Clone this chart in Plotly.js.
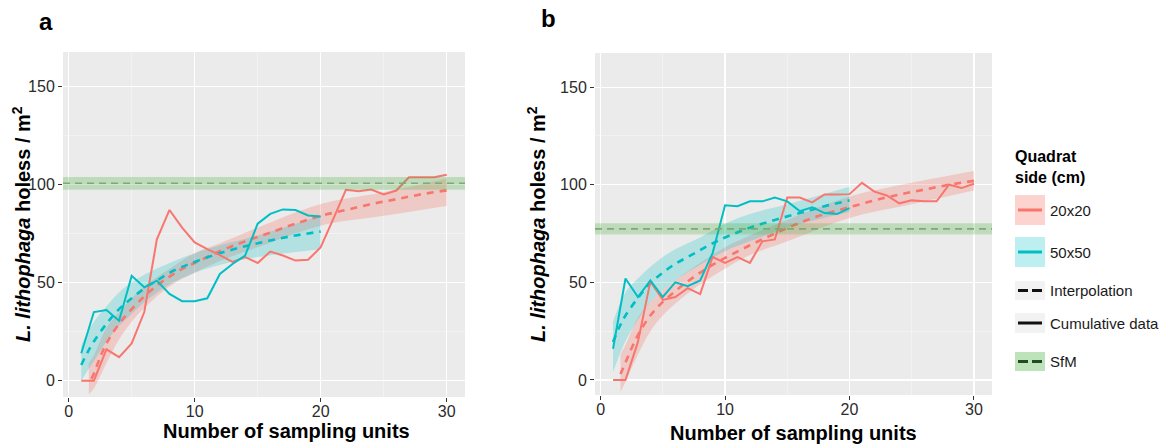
<!DOCTYPE html>
<html>
<head>
<meta charset="utf-8">
<script src="https://cdn.plot.ly/plotly-3.0.1.min.js"></script>
<style>
  html, body { margin: 0; padding: 0; background: #ffffff; }
  #chart { width: 1168px; height: 445px; }
</style>
</head>
<body>
<div id="chart"></div>
<script>
// ---- Sampling units ----
const units20 = [1,2,3,4,5,6,7,8,9,10,11,12,13,14,15,16,17,18,19,20,21,22,23,24,25,26,27,28,29,30];
const units50 = [1,2,3,4,5,6,7,8,9,10,11,12,13,14,15,16,17,18,19,20];

// ---- Panel a: cumulative density (holes / m2) ----
const a20Cum = [0,0,16,12,19,35,72,87,78,70.5,67,64,60.5,63,60,65.8,63.8,61.2,61.6,68,82.5,97.3,96.6,97.4,94.9,96.9,103.7,103.7,103.7,105];
const a50Cum = [14,35,36,30.6,53.5,47.6,51,44.2,40.5,40.5,42,54.4,59.5,63.8,80,85,87.3,87,84.2,83.7];

// ---- Panel a: interpolation curves and confidence ribbons ----
const a20FitX = [1.8,2,2.5,3,4,5,6,7,8,9,10,12,14,16,18,20,22,24,26,28,30];
const a20Fit  = [1,3.5,12,19,29,36.5,43,48.5,53,57,60,66,71,75.5,80,84,87,90,92.5,95,97];
const a50FitX = [1,1.5,2,3,4,5,6,7,8,9,10,12,14,16,18,20];
const a50Fit  = [8,14.5,20,29,36.5,42,47,51,55,58,60.5,65,68.5,71.5,74,76];
const a20BandX  = [1.6,2,3,4,5,6,8,10,12,15,20,25,30];
const a20BandHi = [9,13,27,35,42,48,57,65,70,78,90,96,103];
const a20BandLo = [-7,-4,9,21,30,37,48,55,61,68,79,84,89];
const a50BandX  = [1,2,3,4,5,6,8,10,12,15,20];
const a50BandHi = [18,30,38,45,50,54,60,65,69,74,84];
const a50BandLo = [0,10,20,28,34,40,49,55,59,63,67];

// ---- Panel b: cumulative density (holes / m2) ----
const b20Cum = [0,0,19.5,50.5,41,42.5,47,44,63,60,63,60,71,72,93.5,93.5,91,95,95,95.2,101,96.5,94.5,90.5,92,91.5,91.5,100,98.3,100.5];
const b50Cum = [16,52,42.5,51,42.5,50,48,51,65,89.5,89,91.5,91.5,93.5,91.5,86.5,88.5,85.5,85,88];

// ---- Panel b: interpolation curves and confidence ribbons ----
const b20FitX = [1.6,2,3,4,5,6,7,8,9,10,12,14,16,18,20,22,24,26,28,30];
const b20Fit  = [3,9,23,33,40,45.5,50.5,55,59,62.5,69,75,80.5,85,88.5,92,95,97.5,100,102];
const b50FitX = [1,1.5,2,3,4,5,6,7,8,9,10,12,14,16,18,20];
const b50Fit  = [19.5,27,33,42,49.5,55,59.5,63,66.5,70,73,78,82,85.5,89,92];
const b20BandX  = [1.6,2,3,4,5,6,8,10,12,15,20,25,30];
const b20BandHi = [13,18,32,40,46,51,60,68,74,82,94,101,107];
const b20BandLo = [-6,-1,13,25,33,39,49,57,64,71,83,90,97];
const b50BandX  = [1,2,3,4,5,6,8,10,12,15,20];
const b50BandHi = [30,45,52,58,63,67,73,80,85,90,99];
const b50BandLo = [4,20,31,40,46,51,59,66,71,78,86];

// ---- SfM estimate (mean and interval), panel a then panel b ----
const sfmMean = [100.6, 77.4];
const sfmLow  = [97.3, 74.5];
const sfmHigh = [103.8, 80.3];

// ---- Tick labels and titles ----
const xTicks = [0, 10, 20, 30];
const yTicks = [0, 50, 100, 150];
const xTitle = '<b>Number of sampling units</b>';
const yTitle = '<b><i>L. lithophaga</i> holess / m<sup>2</sup></b>';
const legendTitle = '<b>Quadrat<br>side (cm)</b>';
const legendLabels = ['20x20', '50x50', 'Interpolation', 'Cumulative data', 'SfM'];

const RED = '#F8766D';
const TEAL = '#00BFC4';
const RED_FILL = 'rgba(248,118,109,0.28)';
const TEAL_FILL = 'rgba(0,191,196,0.24)';

function ribbon(x, lo, hi, fill, xa, ya) {
  return [
    { x: x, y: lo, xaxis: xa, yaxis: ya, type: 'scatter', mode: 'lines',
      line: { width: 0, shape: 'spline', color: 'rgba(0,0,0,0)' }, hoverinfo: 'skip' },
    { x: x, y: hi, xaxis: xa, yaxis: ya, type: 'scatter', mode: 'lines',
      line: { width: 0, shape: 'spline', color: 'rgba(0,0,0,0)' },
      fill: 'tonexty', fillcolor: fill, hoverinfo: 'skip' }
  ];
}
function fitLine(x, y, color, xa, ya) {
  return { x: x, y: y, xaxis: xa, yaxis: ya, type: 'scatter', mode: 'lines',
    line: { color: color, width: 2.6, dash: '7px,6px', shape: 'spline' } };
}
function cumLine(x, y, color, xa, ya) {
  return { x: x, y: y, xaxis: xa, yaxis: ya, type: 'scatter', mode: 'lines',
    line: { color: color, width: 2 } };
}

const data = [].concat(
  ribbon(a20BandX, a20BandLo, a20BandHi, RED_FILL, 'x', 'y'),
  ribbon(a50BandX, a50BandLo, a50BandHi, TEAL_FILL, 'x', 'y'),
  [fitLine(a20FitX, a20Fit, RED, 'x', 'y'), fitLine(a50FitX, a50Fit, TEAL, 'x', 'y'),
   cumLine(units20, a20Cum, RED, 'x', 'y'), cumLine(units50, a50Cum, TEAL, 'x', 'y')],
  ribbon(b20BandX, b20BandLo, b20BandHi, RED_FILL, 'x2', 'y2'),
  ribbon(b50BandX, b50BandLo, b50BandHi, TEAL_FILL, 'x2', 'y2'),
  [fitLine(b20FitX, b20Fit, RED, 'x2', 'y2'), fitLine(b50FitX, b50Fit, TEAL, 'x2', 'y2'),
   cumLine(units20, b20Cum, RED, 'x2', 'y2'), cumLine(units50, b50Cum, TEAL, 'x2', 'y2')]
);

const FONT = 'Liberation Sans, Arial, Helvetica, sans-serif';

function xAxis(domain, anchor) {
  return {
    domain: domain, anchor: anchor, range: [-0.45, 31.45],
    tickmode: 'array', tickvals: xTicks, ticktext: xTicks.map(String),
    ticks: 'outside', ticklen: 4, tickwidth: 1, tickcolor: '#333333',
    tickfont: { size: 16, color: '#2b2b2b', family: FONT }, ticklabelstandoff: -4,
    showgrid: true, gridcolor: '#FFFFFF', gridwidth: 1.2, zeroline: false, showline: false,
    minor: { dtick: 5, tick0: 0, showgrid: true, gridcolor: '#F7F7F7', gridwidth: 0.6, ticks: '' },
    automargin: false, fixedrange: true
  };
}
function yAxis(domain, anchor, range) {
  return {
    domain: domain, anchor: anchor, range: range,
    tickmode: 'array', tickvals: yTicks, ticktext: yTicks.map(String),
    ticks: 'outside', ticklen: 4, tickwidth: 1, tickcolor: '#333333',
    tickfont: { size: 16, color: '#2b2b2b', family: FONT },
    showgrid: true, gridcolor: '#FFFFFF', gridwidth: 1.2, zeroline: false, showline: false,
    minor: { dtick: 25, tick0: 0, showgrid: true, gridcolor: '#F7F7F7', gridwidth: 0.6, ticks: '' },
    automargin: false, fixedrange: true
  };
}

// SfM band and dashed mean line, drawn over each panel
function sfmShapes(i, xref, yref) {
  return [
    { type: 'rect', xref: xref + ' domain', yref: yref, x0: 0, x1: 1, y0: sfmLow[i], y1: sfmHigh[i],
      fillcolor: 'rgba(70,175,60,0.27)', line: { width: 0 }, layer: 'above' },
    { type: 'line', xref: xref + ' domain', yref: yref, x0: 0, x1: 1, y0: sfmMean[i], y1: sfmMean[i],
      line: { color: '#7FA87C', width: 1.6, dash: '7px,5px' }, layer: 'above' }
  ];
}

// Legend and title placement helpers (paper pixels)
const W = 1168, H = 445;
const px = v => v / W;
const py = v => 1 - v / H;
function keyBox(y0, y1, fill) {
  return { type: 'rect', xref: 'paper', yref: 'paper', x0: px(1015), x1: px(1045), y0: py(y1), y1: py(y0),
    fillcolor: fill, line: { width: 0 } };
}
function keyLine(x0, x1, y, color, width) {
  return { type: 'line', xref: 'paper', yref: 'paper', x0: px(x0), x1: px(x1), y0: py(y), y1: py(y),
    line: { color: color, width: width } };
}

const legendShapes = [
  keyBox(195, 225, 'rgba(248,118,109,0.32)'), keyLine(1018, 1042, 210, RED, 3),
  keyBox(237, 267, 'rgba(0,191,196,0.26)'), keyLine(1018, 1042, 252, TEAL, 3),
  keyBox(281, 300, '#F2F2F2'), keyLine(1018, 1028, 290.5, '#111', 3), keyLine(1032, 1042, 290.5, '#111', 3),
  keyBox(313, 333, '#F2F2F2'), keyLine(1018, 1042, 323, '#111', 3),
  keyBox(352, 371, 'rgba(70,175,60,0.35)'), keyLine(1018, 1028, 361.5, '#1E4D1E', 3), keyLine(1032, 1042, 361.5, '#1E4D1E', 3)
];

function legendText(txt, y) {
  return { xref: 'paper', yref: 'paper', x: px(1048), y: py(y), xanchor: 'left', yanchor: 'middle',
    text: txt, showarrow: false, font: { size: 15, color: '#1a1a1a', family: FONT } };
}
function label(txt, x, y, size, angle) {
  return { xref: 'paper', yref: 'paper', x: px(x), y: py(y), xanchor: 'center', yanchor: 'middle',
    text: txt, showarrow: false, textangle: angle || 0, font: { size: size, color: '#000', family: FONT } };
}

const annotations = [
  { xref: 'paper', yref: 'paper', x: px(37), y: py(22), xanchor: 'left', yanchor: 'middle',
    text: '<b>a</b>', showarrow: false, font: { size: 24, color: '#000', family: FONT } },
  { xref: 'paper', yref: 'paper', x: px(539), y: py(18), xanchor: 'left', yanchor: 'middle',
    text: '<b>b</b>', showarrow: false, font: { size: 24, color: '#000', family: FONT } },
  label(xTitle, 286, 431, 20),
  label(xTitle, 793, 433, 20),
  label(yTitle, 21, 224, 20, -90),
  label(yTitle, 536, 224, 20, -90),
  { xref: 'paper', yref: 'paper', x: px(1013), y: py(167), xanchor: 'left', yanchor: 'middle', align: 'left',
    text: legendTitle, showarrow: false, font: { size: 16, color: '#000', family: FONT } },
  legendText(legendLabels[0], 210),
  legendText(legendLabels[1], 252),
  legendText(legendLabels[2], 290),
  legendText(legendLabels[3], 323),
  legendText(legendLabels[4], 361)
];

const layout = {
  width: W, height: H,
  margin: { l: 0, r: 0, t: 0, b: 0 },
  paper_bgcolor: '#FFFFFF', plot_bgcolor: '#EBEBEB',
  showlegend: false,
  font: { family: FONT, color: '#222' },
  xaxis: xAxis([63 / W, 465 / W], 'y'),
  yaxis: yAxis([1 - 397 / H, 1 - 52 / H], 'x', [-8.3, 167.5]),
  xaxis2: xAxis([595 / W, 992 / W], 'y2'),
  yaxis2: yAxis([1 - 395 / H, 1 - 53 / H], 'x2', [-7.7, 167.5]),
  shapes: [].concat(sfmShapes(0, 'x', 'y'), sfmShapes(1, 'x2', 'y2'), legendShapes),
  annotations: annotations
};

Plotly.newPlot('chart', data, layout, { staticPlot: true, displayModeBar: false });
</script>
</body>
</html>
